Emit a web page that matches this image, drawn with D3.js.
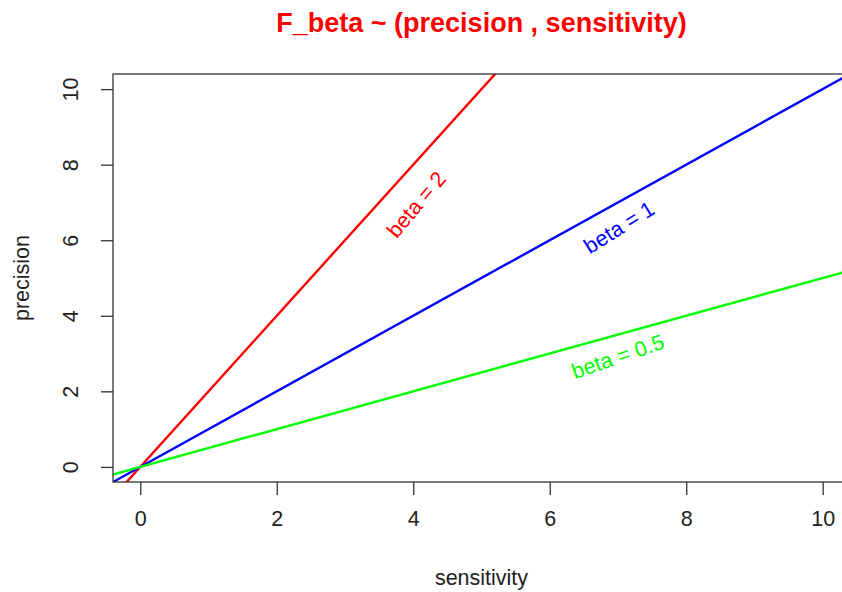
<!DOCTYPE html>
<html>
<head>
<meta charset="utf-8">
<script src="https://cdn.jsdelivr.net/npm/d3@7"></script>
<style>
  html, body { margin: 0; padding: 0; background: #fff; }
  svg { display: block; }
  text { font-family: "Liberation Sans", Arial, sans-serif; }
</style>
</head>
<body>
<svg id="chart" width="842" height="592"></svg>
<script>
// ---- data ----
const betas = [2, 1, 0.5];
const lineColors = ["#ff0000", "#0000ff", "#00ff00"];
const lineLabels = ["beta = 2", "beta = 1", "beta = 0.5"];
const labelX = [4.05, 7.02, 7.0];
const labelY = [6.94, 6.33, 2.91];
const labelAngle = [-50, -32, -19];
const xTicks = [0, 2, 4, 6, 8, 10];
const yTicks = [0, 2, 4, 6, 8, 10];
const xDomain = [-0.4, 10.4];
const yDomain = [-0.4, 10.4];

const svg = d3.select("#chart");
const m = { left: 113, top: 74, right: 850, bottom: 482 };
const FS = 21.5;

const x = d3.scaleLinear().domain(xDomain).range([m.left, m.right]);
const y = d3.scaleLinear().domain(yDomain).range([m.bottom, m.top]);

// clip
svg.append("clipPath").attr("id", "clip")
  .append("rect").attr("x", m.left).attr("y", m.top)
  .attr("width", m.right - m.left).attr("height", m.bottom - m.top);

// lines
const g = svg.append("g").attr("clip-path", "url(#clip)");
const line = d3.line().x(d => x(d[0])).y(d => y(d[1]));
betas.forEach((b, i) => {
  const xs = [xDomain[0] - 1, xDomain[1] + 1];
  g.append("path")
    .attr("d", line(xs.map(v => [v, v * b])))
    .attr("fill", "none")
    .attr("stroke", lineColors[i])
    .attr("stroke-width", 2.4);
});

// labels
betas.forEach((b, i) => {
  svg.append("text")
    .attr("transform", `translate(${x(labelX[i])},${y(labelY[i])}) rotate(${labelAngle[i]})`)
    .attr("text-anchor", "middle")
    .attr("dominant-baseline", "central")
    .attr("fill", lineColors[i])
    .attr("font-size", FS)
    .text(lineLabels[i]);
});

// box
svg.append("rect")
  .attr("x", m.left).attr("y", m.top)
  .attr("width", m.right - m.left).attr("height", m.bottom - m.top)
  .attr("fill", "none").attr("stroke", "#333").attr("stroke-width", 1.3);

// x axis
const xAxis = d3.axisBottom(x).tickValues(xTicks).tickSize(13).tickPadding(16)
  .tickFormat(d3.format("d"));
const gx = svg.append("g").attr("transform", `translate(0,${m.bottom})`).call(xAxis);
gx.select(".domain").remove();
gx.selectAll(".tick line").attr("stroke", "#333").attr("stroke-width", 1.3);
gx.selectAll(".tick text").attr("font-size", FS).attr("fill", "#222")
  .attr("font-family", "'Liberation Sans', Arial, sans-serif");

// y axis
const yAxis = d3.axisLeft(y).tickValues(yTicks).tickSize(12).tickPadding(0)
  .tickFormat(d3.format("d"));
const gy = svg.append("g").attr("transform", `translate(${m.left},0)`).call(yAxis);
gy.select(".domain").remove();
gy.selectAll(".tick line").attr("stroke", "#333").attr("stroke-width", 1.3);
gy.selectAll(".tick text")
  .attr("x", null).attr("dy", null)
  .attr("text-anchor", "middle")
  .attr("transform", "translate(-42,0) rotate(-90)")
  .attr("dominant-baseline", "central")
  .attr("font-size", FS).attr("fill", "#222")
  .attr("font-family", "'Liberation Sans', Arial, sans-serif");

// title
svg.append("text")
  .attr("x", (m.left + m.right) / 2).attr("y", 32)
  .attr("text-anchor", "middle")
  .attr("font-weight", "bold").attr("font-size", 27)
  .attr("fill", "#ff0000")
  .text("F_beta ~ (precision , sensitivity)");

// axis labels
svg.append("text")
  .attr("x", (m.left + m.right) / 2).attr("y", 585)
  .attr("text-anchor", "middle").attr("font-size", FS).attr("fill", "#222")
  .text("sensitivity");
svg.append("text")
  .attr("transform", `translate(29,${(m.top + m.bottom) / 2}) rotate(-90)`)
  .attr("text-anchor", "middle").attr("font-size", FS).attr("fill", "#222")
  .text("precision");
</script>
</body>
</html>
